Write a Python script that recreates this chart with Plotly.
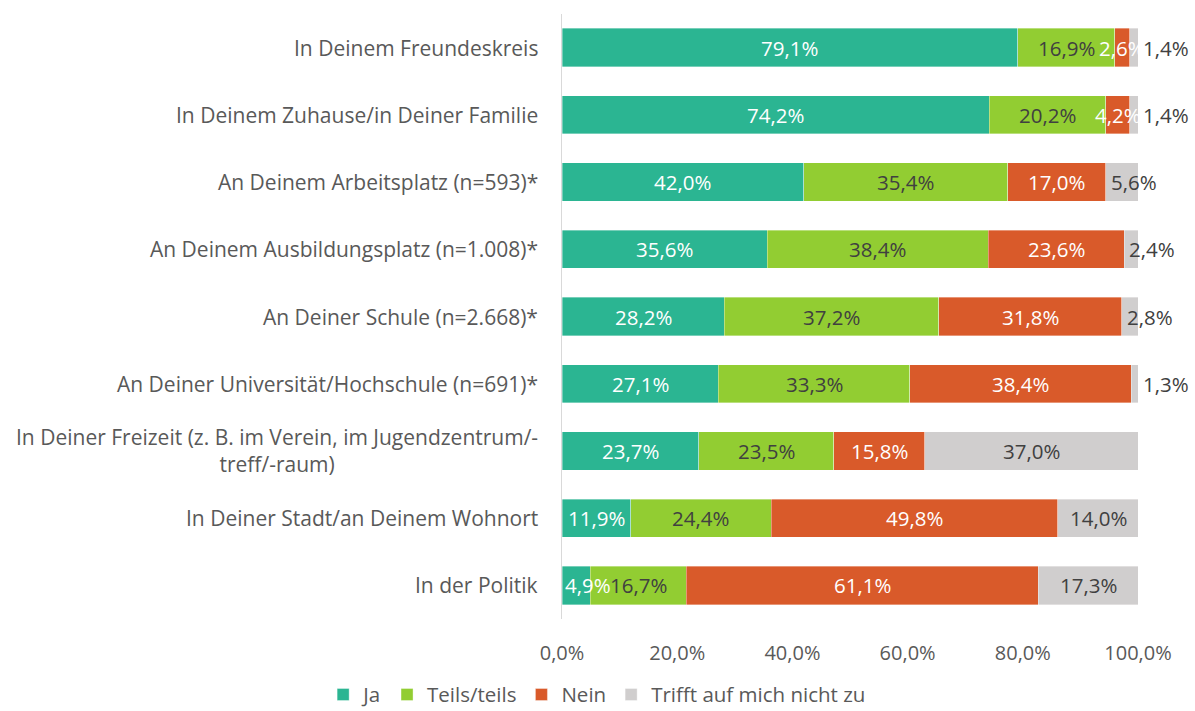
import plotly.graph_objects as go

categories = [
    "In Deinem Freundeskreis",
    "In Deinem Zuhause/in Deiner Familie",
    "An Deinem Arbeitsplatz (n=593)*",
    "An Deinem Ausbildungsplatz (n=1.008)*",
    "An Deiner Schule (n=2.668)*",
    "An Deiner Universität/Hochschule (n=691)*",
    "In Deiner Freizeit (z. B. im Verein, im Jugendzentrum/-<br>treff/-raum)",
    "In Deiner Stadt/an Deinem Wohnort",
    "In der Politik",
]
ja = [79.1, 74.2, 42.0, 35.6, 28.2, 27.1, 23.7, 11.9, 4.9]
teils = [16.9, 20.2, 35.4, 38.4, 37.2, 33.3, 23.5, 24.4, 16.7]
nein = [2.6, 4.2, 17.0, 23.6, 31.8, 38.4, 15.8, 49.8, 61.1]
trifft_nicht = [1.4, 1.4, 5.6, 2.4, 2.8, 1.3, 37.0, 14.0, 17.3]

series = [
    ("Ja", ja, "#2BB592", "#FFFFFF"),
    ("Teils/teils", teils, "#92CD32", "#404040"),
    ("Nein", nein, "#D95A2A", "#FFFFFF"),
    ("Trifft auf mich nicht zu", trifft_nicht, "#D0CECE", "#404040"),
]
tick_vals = [0, 20, 40, 60, 80, 100]
tick_text = ["0,0%", "20,0%", "40,0%", "60,0%", "80,0%", "100,0%"]

FONT = "'Open Sans', sans-serif"
GREY = "#595959"
LABEL = "#404040"


def fmt(v):
    return f"{v:.1f}".replace(".", ",") + "%"


fig = go.Figure()
base = [0.0] * len(categories)
for idx, (name, vals, color, tcolor) in enumerate(series):
    fig.add_trace(go.Bar(
        name=name,
        y=categories,
        x=vals,
        orientation="h",
        marker=dict(color=color, line=dict(color="rgba(255,255,255,0.6)", width=0.6)),
        hoverinfo="skip",
    ))
    first = idx == 0
    last = idx == len(series) - 1
    for cat, start, v in zip(categories, base, vals):
        if last and v < 6:
            # narrow grey segments: label sits just right of the segment start / bar end
            ann = dict(x=100 if v < 2 else start, xanchor="left", xshift=3,
                       font_color=LABEL)
        elif first and v < 6:
            # narrow first segment: label starts at the axis
            ann = dict(x=start, xanchor="left", xshift=1, font_color=tcolor)
        else:
            ann = dict(x=start + v / 2, xanchor="center", xshift=0,
                       font_color=tcolor)
        fig.add_annotation(
            x=ann["x"], y=cat, xref="x", yref="y",
            xanchor=ann["xanchor"], xshift=ann["xshift"],
            text=fmt(v), showarrow=False,
            font=dict(family=FONT, size=20.5, color=ann["font_color"]),
        )
    base = [b + v for b, v in zip(base, vals)]

# category labels, each line centred
for cat in categories:
    fig.add_annotation(
        x=0, xref="paper", xanchor="right", xshift=-22,
        y=cat, yref="y",
        text=cat, showarrow=False, align="center",
        font=dict(family=FONT, size=21, color=GREY),
    )

fig.update_layout(
    barmode="stack",
    bargap=0.43,
    width=1195,
    height=711,
    margin=dict(l=562, r=57, t=14, b=92, autoexpand=False),
    paper_bgcolor="white",
    plot_bgcolor="white",
    font=dict(family=FONT, size=21, color=GREY),
    showlegend=True,
    legend=dict(
        orientation="h",
        x=0.061, xanchor="center",
        y=-0.092, yanchor="top",
        font=dict(family=FONT, size=20.5, color=GREY),
        traceorder="normal",
        itemwidth=30,
    ),
    xaxis=dict(
        range=[0, 100],
        tickvals=tick_vals,
        ticktext=tick_text,
        showgrid=False,
        zeroline=False,
        showline=False,
        ticks="outside",
        ticklen=16,
        tickcolor="rgba(0,0,0,0)",
        tickfont=dict(family=FONT, size=20, color=GREY),
    ),
    yaxis=dict(
        categoryorder="array",
        categoryarray=categories,
        autorange="reversed",
        showticklabels=False,
        showgrid=False,
        zeroline=False,
        showline=True,
        linecolor="#D9D9D9",
        linewidth=1,
        ticks="",
    ),
)

fig.write_html("out.html")
